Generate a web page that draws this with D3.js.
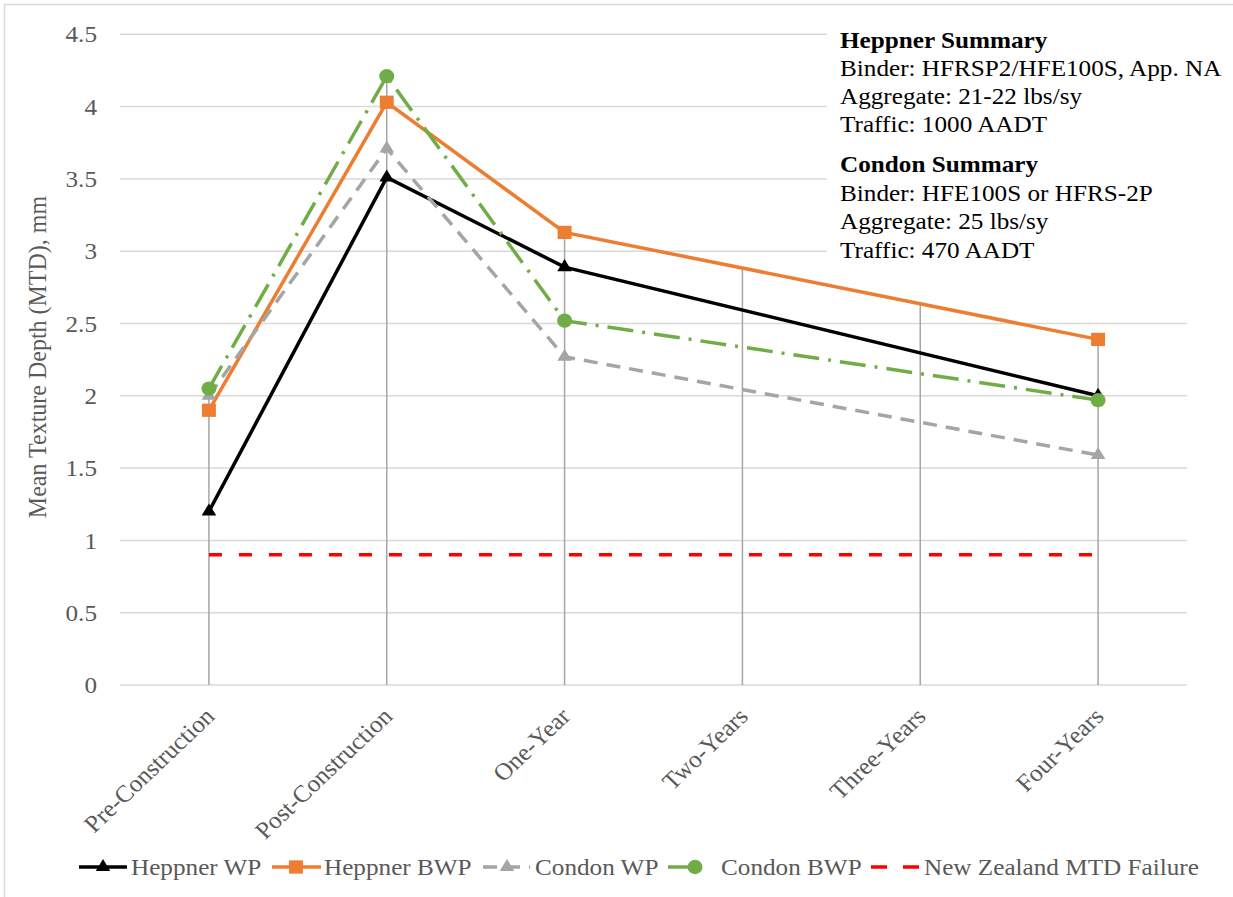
<!DOCTYPE html>
<html>
<head>
<meta charset="utf-8">
<script src="https://cdn.jsdelivr.net/npm/d3@7"></script>
<style>
  html, body { margin: 0; padding: 0; background: #ffffff; }
  svg { display: block; }
  text { font-family: "Liberation Serif", "Times New Roman", serif; }
</style>
</head>
<body>
<svg id="chart" width="1233" height="897"></svg>
<script>
// ---- data -------------------------------------------------------------
const categories = ["Pre-Construction", "Post-Construction", "One-Year", "Two-Years", "Three-Years", "Four-Years"];
const heppnerWP  = [1.20, 3.51, 2.89, null, null, 2.00];
const heppnerBWP = [1.90, 4.03, 3.13, null, null, 2.39];
const condonWP   = [2.00, 3.71, 2.27, null, null, 1.59];
const condonBWP  = [2.05, 4.21, 2.52, null, null, 1.97];
const nzFailure  = [0.9, 0.9, 0.9, 0.9, 0.9, 0.9];
const yTicks = [0, 0.5, 1, 1.5, 2, 2.5, 3, 3.5, 4, 4.5];
const seriesNames = ["Heppner WP", "Heppner BWP", "Condon WP", "Condon BWP", "New Zealand MTD Failure"];
const heppnerTitle = "Heppner Summary";
const heppnerNotes = ["Binder: HFRSP2/HFE100S, App. NA", "Aggregate: 21-22 lbs/sy", "Traffic: 1000 AADT"];
const condonTitle = "Condon Summary";
const condonNotes = ["Binder: HFE100S or HFRS-2P", "Aggregate: 25 lbs/sy", "Traffic: 470 AADT"];
const yTitle = "Mean Texture Depth (MTD), mm";

// ---- styling ----------------------------------------------------------
const SX = 1.05;            // slight horizontal widening of glyphs and markers
const FONT = 24;
const AXIS_TEXT = "#595959";
const GRID = "#D9D9D9";

const series = [
  { name: seriesNames[0], values: heppnerWP,  color: "#000000", width: 3.5, dash: null,        marker: "triangle" },
  { name: seriesNames[1], values: heppnerBWP, color: "#ED7D31", width: 3.5, dash: null,        marker: "square" },
  { name: seriesNames[2], values: condonWP,   color: "#A5A5A5", width: 3.5, dash: "14,9",      marker: "triangle" },
  { name: seriesNames[3], values: condonBWP,  color: "#70AD47", width: 3.5, dash: "26,9,3,9",  marker: "circle" },
  { name: seriesNames[4], values: nzFailure,  color: "#FF0000", width: 3.5, dash: "13,17",     marker: null }
];

// ---- layout -----------------------------------------------------------
const plot = { left: 120, right: 1187, top: 34.3, bottom: 685 };

const svg = d3.select("#chart");

const x = d3.scalePoint().domain(categories).range([plot.left, plot.right]).padding(0.5);
const y = d3.scaleLinear().domain([0, 4.5]).range([plot.bottom, plot.top]);

// chart frame
svg.append("rect")
  .attr("x", 4.5).attr("y", 4.5).attr("width", 1260).attr("height", 920)
  .attr("fill", "#ffffff").attr("stroke", GRID).attr("stroke-width", 1.5);

// text helper: places a string at (px,py) with widened glyphs and optional rotation
function addText(parent, px, py, str, opt = {}) {
  const rot = opt.rotate ? ` rotate(${opt.rotate})` : "";
  return parent.append("text")
    .attr("transform", `translate(${px},${py}) scale(${SX},1)${rot}`)
    .attr("text-anchor", opt.anchor || "start")
    .attr("dy", opt.dy || null)
    .attr("font-size", opt.size || FONT)
    .attr("font-weight", opt.weight || null)
    .attr("fill", opt.fill || AXIS_TEXT)
    .text(str);
}

// horizontal gridlines (the zero line doubles as the category axis)
svg.append("g").selectAll("line").data(yTicks).join("line")
  .attr("x1", plot.left).attr("x2", plot.right)
  .attr("y1", d => y(d)).attr("y2", d => y(d))
  .attr("stroke", GRID).attr("stroke-width", 1.5);

// y tick labels
const yLab = svg.append("g");
yTicks.forEach(t => addText(yLab, 97, y(t), d3.format("")(t), { anchor: "end", dy: "0.34em" }));

// y axis title
addText(svg, 37, 357, yTitle, { anchor: "middle", rotate: -90, dy: "0.34em" });

// x tick labels, slanted
const xLab = svg.append("g");
categories.forEach(c => addText(xLab, x(c) + 1, 712, c, { anchor: "end", rotate: -45, dy: "0.34em" }));

// summary box (white backing over the gridlines)
svg.append("rect")
  .attr("x", 827).attr("y", 20).attr("width", 410).attr("height", 265)
  .attr("fill", "#ffffff");

// value of a series' drawn polyline at category index i (bridging empty cells)
function valueOnLine(vals, i) {
  if (vals[i] != null) return vals[i];
  let a = i - 1, b = i + 1;
  while (a >= 0 && vals[a] == null) a--;
  while (b < vals.length && vals[b] == null) b++;
  if (a < 0 || b >= vals.length) return null;
  const t = (i - a) / (b - a);
  return vals[a] + (vals[b] - vals[a]) * t;
}

// drop lines from the highest series down to the axis
const dataSeries = series.slice(0, 4);
svg.append("g").selectAll("line").data(categories).join("line")
  .attr("x1", d => x(d)).attr("x2", d => x(d))
  .attr("y1", y(0))
  .attr("y2", (d, i) => y(d3.max(dataSeries, s => valueOnLine(s.values, i))))
  .attr("stroke", "#A6A6A6").attr("stroke-width", 1.5);

// series lines
const line = d3.line().x(d => x(d.c)).y(d => y(d.v));
const gLines = svg.append("g");
series.forEach(s => {
  const pts = s.values.map((v, i) => ({ c: categories[i], v })).filter(d => d.v != null);
  gLines.append("path")
    .datum(pts)
    .attr("d", line)
    .attr("fill", "none")
    .attr("stroke", s.color)
    .attr("stroke-width", s.width)
    .attr("stroke-dasharray", s.dash)
    .attr("stroke-linejoin", "miter");
});

// markers
const symbolFor = {
  triangle: d3.symbol().type(d3.symbolTriangle).size(84),
  square: d3.symbol().type(d3.symbolSquare).size(176),
  circle: d3.symbol().type(d3.symbolCircle).size(160)
};
function drawMarker(parent, px, py, s) {
  parent.append("path")
    .attr("transform", `translate(${px},${py}) scale(${SX},1)`)
    .attr("d", symbolFor[s.marker]())
    .attr("fill", s.color);
}
const gMarks = svg.append("g");
series.forEach(s => {
  if (!s.marker) return;
  s.values.forEach((v, i) => {
    if (v != null) drawMarker(gMarks, x(categories[i]), y(v), s);
  });
});

// summary notes
const notes = svg.append("g");
const noteLines = [
  { t: heppnerTitle, bold: true, yb: 48 },
  { t: heppnerNotes[0], yb: 76 },
  { t: heppnerNotes[1], yb: 104 },
  { t: heppnerNotes[2], yb: 132 },
  { t: condonTitle, bold: true, yb: 172 },
  { t: condonNotes[0], yb: 201 },
  { t: condonNotes[1], yb: 229 },
  { t: condonNotes[2], yb: 258 }
];
noteLines.forEach(n => addText(notes, 840, n.yb, n.t, { fill: "#000000", weight: n.bold ? "bold" : null }));

// legend
const legendY = 867;
const legendItems = [
  { x1: 79,  x2: 127, mx: 103, tx: 131 },
  { x1: 272, x2: 321, mx: 296, tx: 324 },
  { x1: 483, x2: 530, mx: 507, tx: 535 },
  { x1: 668, x2: 702, mx: 695, tx: 721 },
  { x1: 871, x2: 920, mx: null, tx: 924 }
];
const gLeg = svg.append("g");
series.forEach((s, i) => {
  const L = legendItems[i];
  gLeg.append("line")
    .attr("x1", L.x1).attr("x2", L.x2).attr("y1", legendY).attr("y2", legendY)
    .attr("stroke", s.color).attr("stroke-width", s.width)
    .attr("stroke-dasharray", i === 4 ? "16,16" : (i === 2 ? "14,9" : null));
  if (s.marker) drawMarker(gLeg, L.mx, legendY, s);
  addText(gLeg, L.tx, legendY, s.name, { dy: "0.34em" });
});
</script>
</body>
</html>
